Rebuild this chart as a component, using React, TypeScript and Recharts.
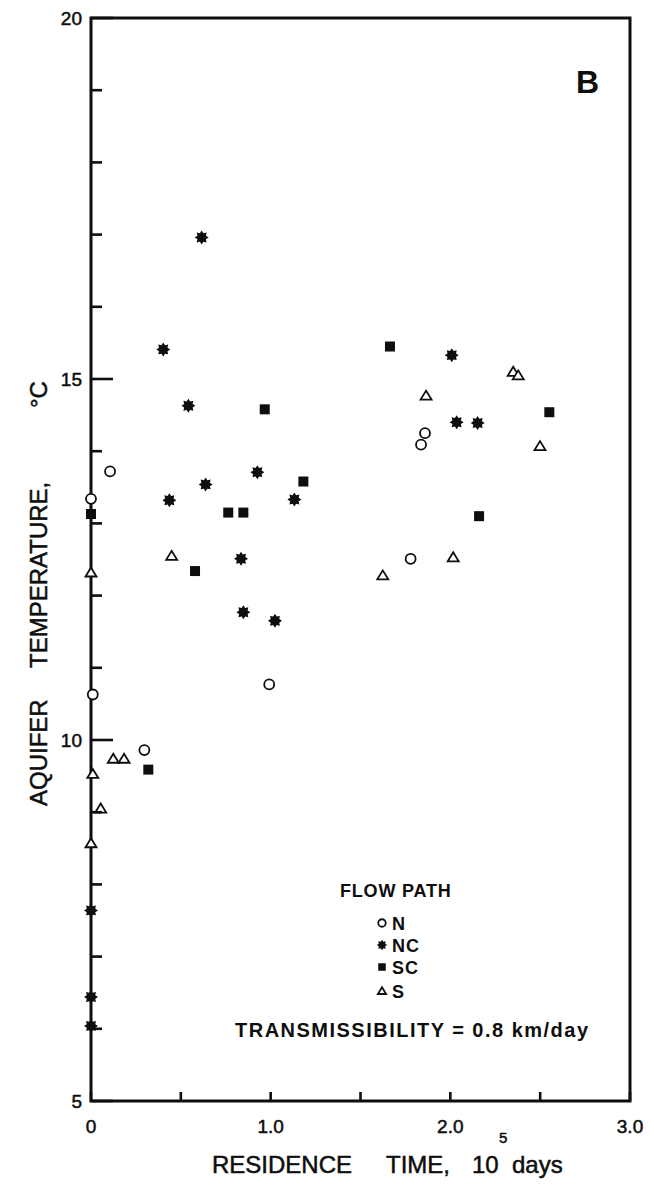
import { ScatterChart, Scatter, XAxis, YAxis, Legend, ReferenceArea } from 'recharts'

const FONT = '"Liberation Sans", Arial, sans-serif'
const INK = '#0e0e0e'

// axes
const X_DOMAIN = [0, 3]
const Y_DOMAIN = [5, 20]
const X_TICKS = [0, 0.5, 1, 1.5, 2, 2.5, 3]
const X_TICK_LABELS: Record<number, string> = { 0: '0', 1: '1.0', 2: '2.0', 3: '3.0' }
const Y_TICKS = [5, 6, 7, 8, 9, 10, 11, 12, 13, 14, 15, 16, 17, 18, 19, 20]
const Y_TICK_LABELS: Record<number, string> = { 5: '5', 10: '10', 15: '15', 20: '20' }

const FLOW_PATHS = ['N', 'NC', 'SC', 'S']

// residence time (10^5 days) / aquifer temperature (deg C), per flow path
const nTime = [0, 0.106, 0.01, 0.297, 0.992, 1.779, 1.837, 1.859]
const nTemp = [13.34, 13.72, 10.63, 9.86, 10.77, 12.51, 14.09, 14.25]

const ncTime = [0.402, 0.616, 0.542, 0.926, 0.638, 0.436, 1.132, 0.835, 0.848, 1.024, 2.008, 2.035, 2.152, 0, 0, 0]
const ncTemp = [15.41, 16.96, 14.63, 13.71, 13.54, 13.32, 13.33, 12.51, 11.77, 11.65, 15.33, 14.4, 14.39, 7.64, 6.44, 6.04]

const scTime = [0.967, 1.182, 0, 0.764, 0.848, 0.579, 1.664, 2.551, 2.16, 0.319]
const scTemp = [14.58, 13.58, 13.13, 13.15, 13.15, 12.34, 15.45, 14.54, 13.1, 9.59]

const sTime = [0.449, 0, 2.35, 2.378, 1.865, 2.499, 2.016, 1.624, 0.124, 0.184, 0.01, 0.054, 0]
const sTemp = [12.55, 12.32, 15.1, 15.05, 14.77, 14.07, 12.53, 12.28, 9.74, 9.74, 9.53, 9.05, 8.57]

const toPoints = (xs: number[], ys: number[]) => xs.map((x, i) => ({ x, y: ys[i] }))

type MarkProps = { cx: number; cy: number; s?: number }

const OpenCircle = ({ cx, cy, s = 1 }: MarkProps) => (
  <circle cx={cx} cy={cy} r={5 * s} fill="#fff" stroke={INK} strokeWidth={1.8} />
)

const Star = ({ cx, cy, s = 1 }: MarkProps) => {
  const pts: string[] = []
  for (let i = 0; i < 16; i++) {
    const r = (i % 2 === 0 ? 7 : 4.6) * s
    const a = (Math.PI * i) / 8 - Math.PI / 2
    pts.push(`${cx + r * Math.cos(a)},${cy + r * Math.sin(a)}`)
  }
  return <polygon points={pts.join(' ')} fill={INK} />
}

const FilledSquare = ({ cx, cy, s = 1 }: MarkProps) => (
  <rect x={cx - 5 * s} y={cy - 5 * s} width={10 * s} height={10 * s} fill={INK} />
)

const OpenTriangle = ({ cx, cy, s = 1 }: MarkProps) => {
  const h = 5 * s
  const w = 5.5 * s
  return (
    <polygon
      points={`${cx},${cy - h} ${cx + w},${cy + h * 0.8} ${cx - w},${cy + h * 0.8}`}
      fill="#fff"
      stroke={INK}
      strokeWidth={1.8}
    />
  )
}

const MARKS: Record<string, (p: MarkProps) => JSX.Element> = {
  N: OpenCircle,
  NC: Star,
  SC: FilledSquare,
  S: OpenTriangle,
}

// a thin outline on the text thickens it toward the hand-lettered original
const tickText = { fontFamily: FONT, fontSize: 19, fill: INK, stroke: INK, strokeWidth: 0.5 }

const BottomTick = ({ x, y, payload }: any) => (
  <g>
    <line x1={x} y1={y} x2={x} y2={y - 9} stroke={INK} strokeWidth={2.6} />
    {X_TICK_LABELS[payload.value] && (
      <text x={x} y={y + 25} dy="0.35em" textAnchor="middle" {...tickText}>
        {X_TICK_LABELS[payload.value]}
      </text>
    )}
  </g>
)

const TopTick = ({ x, y }: any) => (
  <line x1={x} y1={y} x2={x} y2={y + 11} stroke={INK} strokeWidth={2.6} />
)

const LeftTick = ({ x, y, payload }: any) => {
  const major = payload.value % 5 === 0
  return (
    <g>
      <line x1={x} y1={y} x2={x + (major ? 22 : 11)} y2={y} stroke={INK} strokeWidth={2.6} />
      {Y_TICK_LABELS[payload.value] && (
        <text x={x - 9} y={y} dy="0.35em" textAnchor="end" {...tickText}>
          {Y_TICK_LABELS[payload.value]}
        </text>
      )}
    </g>
  )
}

const RightTick = ({ x, y, payload }: any) => {
  const major = payload.value % 5 === 0
  return <line x1={x} y1={y} x2={x - (major ? 22 : 11)} y2={y} stroke={INK} strokeWidth={2.6} />
}

const renderLegend = () => (
  <svg width={170} height={130} style={{ display: 'block' }}>
    <text x={10} y={22} fontFamily={FONT} fontSize={18} fontWeight={700} fill={INK} letterSpacing={0.8}>
      FLOW PATH
    </text>
    {FLOW_PATHS.map((name, i) => {
      const cy = [48, 70, 92, 116][i]
      const Mark = MARKS[name]
      return (
        <g key={name}>
          <Mark cx={52} cy={cy} s={0.75} />
          <text x={62} y={cy + 6.5} fontFamily={FONT} fontSize={18} fontWeight={700} fill={INK} letterSpacing={1}>
            {name}
          </text>
        </g>
      )
    })}
  </svg>
)

const axisCommon = {
  type: 'number' as const,
  interval: 0,
  tickSize: 0,
  tickMargin: 0,
  tickLine: false,
  axisLine: false,
}

export default function App() {
  return (
    <div style={{ position: 'absolute', left: 0, top: 0, width: 654, height: 1188, background: '#fff' }}>
      <ScatterChart width={654} height={1188} margin={{ top: 17, right: 23, bottom: 86, left: 90 }}>
        <XAxis dataKey="x" domain={X_DOMAIN} ticks={X_TICKS} height={1} tick={<BottomTick />} {...axisCommon} />
        <XAxis xAxisId="top" orientation="top" domain={X_DOMAIN} ticks={X_TICKS} height={1} tick={<TopTick />} {...axisCommon} />
        <YAxis dataKey="y" domain={Y_DOMAIN} ticks={Y_TICKS} width={1} tick={<LeftTick />} {...axisCommon} />
        <YAxis yAxisId="right" orientation="right" domain={Y_DOMAIN} ticks={Y_TICKS} width={1} tick={<RightTick />} {...axisCommon} />
        {/* plot frame */}
        <ReferenceArea
          x1={X_DOMAIN[0]}
          x2={X_DOMAIN[1]}
          y1={Y_DOMAIN[0]}
          y2={Y_DOMAIN[1]}
          fill="none"
          fillOpacity={0}
          stroke={INK}
          strokeWidth={3}
          strokeOpacity={1}
          ifOverflow="visible"
        />
        <Legend
          layout="vertical"
          align="center"
          verticalAlign="middle"
          content={renderLegend}
          wrapperStyle={{ position: 'absolute', left: 330, top: 875, width: 170, height: 130 }}
        />
        <Scatter name="N" data={toPoints(nTime, nTemp)} isAnimationActive={false} shape={(p: any) => <OpenCircle cx={p.cx} cy={p.cy} />} />
        <Scatter name="NC" data={toPoints(ncTime, ncTemp)} isAnimationActive={false} shape={(p: any) => <Star cx={p.cx} cy={p.cy} />} />
        <Scatter name="SC" data={toPoints(scTime, scTemp)} isAnimationActive={false} shape={(p: any) => <FilledSquare cx={p.cx} cy={p.cy} />} />
        <Scatter name="S" data={toPoints(sTime, sTemp)} isAnimationActive={false} shape={(p: any) => <OpenTriangle cx={p.cx} cy={p.cy} />} />
      </ScatterChart>

      <svg
        width={654}
        height={1188}
        style={{ position: 'absolute', left: 0, top: 0, pointerEvents: 'none' }}
        fontFamily={FONT}
        fill={INK}
        stroke={INK}
        strokeWidth={0.5}
      >
        <text x={576} y={93} fontSize={32} fontWeight={700} strokeWidth={0}>B</text>

        <g transform="translate(47,806) rotate(-90)" fontSize={24}>
          <text x={0} y={0}>AQUIFER</text>
          <text x={138} y={0}>TEMPERATURE,</text>
          <text x={398} y={0}>°C</text>
        </g>

        <g fontSize={24}>
          <text x={212} y={1173}>RESIDENCE</text>
          <text x={386} y={1173}>TIME,</text>
          <text x={472} y={1173}>10</text>
          <text x={499} y={1143} fontSize={15}>5</text>
          <text x={512} y={1173}>days</text>
        </g>

        <text x={235} y={1037} fontSize={20} fontWeight={700} strokeWidth={0} textLength={353} lengthAdjust="spacing">
          TRANSMISSIBILITY = 0.8 km/day
        </text>
      </svg>
    </div>
  )
}
